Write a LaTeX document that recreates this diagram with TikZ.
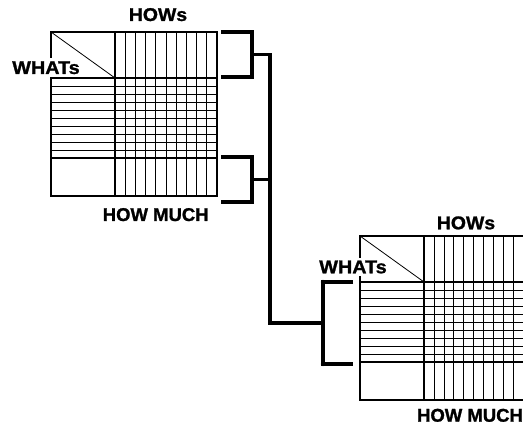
\documentclass[tikz,border=0pt]{standalone}
\usepackage{fontspec}
\setmainfont{Liberation Sans}[BoldFeatures={FakeBold=1.2}]
\usepackage{graphicx}
\newcommand\hoqmat[4]{% #1 name, #2 x, #3 y, #4 column width
  \begin{scope}[shift={(#2,#3)}]
    \pgfmathsetmacro\hoqR{64+10*#4}
    \foreach \i in {1,...,9} \draw[thinln] ({64+\i*#4},0) -- ({64+\i*#4},164);
    \foreach \j in {1,...,9} \draw[thinln] (0,{46+8*\j}) -- (\hoqR,{46+8*\j});
    \draw[divln] (0,46) -- (\hoqR,46);
    \draw[divln] (0,126) -- (\hoqR,126);
    \draw[divln] (64,0) -- (64,164);
    \draw[thinln] (0,0) -- (64,46);
    \draw[border] (0,0) rectangle (\hoqR,164);
    \coordinate (#1-nw) at (0,0);
  \end{scope}}
\begin{document}
\begin{tikzpicture}[x=1pt,y=-1pt,
  thinln/.style={line width=0.8pt},
  border/.style={line width=1.3pt},
  divln/.style={line width=1.5pt},
  bracket/.style={line width=3.3pt},
  lbl/.style={font=\bfseries\fontsize{18.5}{20}\selectfont, inner sep=0pt, anchor=base},
  lblbg/.style={lbl, fill=white, inner xsep=1pt, inner ysep=3pt}]
\useasboundingbox (0,0) rectangle (523,428);
\clip (0,0) rectangle (523,428);

% matrices
\hoqmat{m1}{51}{32}{10.2}
\hoqmat{m2}{360}{236}{9.95}

% labels
\node[lbl] (hows1) at (158,21) {\scalebox{1.05}[1]{HOWs}};
\node[lblbg] (whats1) at (46,74) {\scalebox{1.07}[1]{WHATs}};
\node[lbl] (much1) at (155.7,221) {HOW MUCH};
\node[lbl] (hows2) at (466,229.3) {\scalebox{1.05}[1]{HOWs}};
\node[lblbg] (whats2) at (353,273.3) {\scalebox{1.07}[1]{WHATs}};
\node[lbl] (much2) at (470,421.7) {HOW MUCH};

% bracket coordinates
\coordinate (ua) at (221,32);
\coordinate (ub) at (221,77);
\coordinate (la) at (221,157);
\coordinate (lb) at (221,202);
\coordinate (j1) at (252,54.5);
\coordinate (j2) at (252,179.5);
\coordinate (s1) at (270,54.5);
\coordinate (s2) at (270,179.5);
\coordinate (s3) at (270,323);
\coordinate (j3) at (323,323);
\coordinate (ra) at (353,282);
\coordinate (rb) at (353,364);
\coordinate (rc) at (323,282);
\coordinate (rd) at (323,364);

\draw[bracket] (ua) -- (252,32) -- (252,77) -- (ub);
\draw[bracket] (la) -- (252,157) -- (252,202) -- (lb);
\draw[bracket] (j1) -- (s1) -- (s3) -- (j3);
\draw[bracket] (j2) -- (s2);
\draw[bracket] (ra) -- (rc) -- (rd) -- (rb);
\fill (rc) circle (2.2pt);
\fill (rd) circle (2.2pt);
\end{tikzpicture}
\end{document}
